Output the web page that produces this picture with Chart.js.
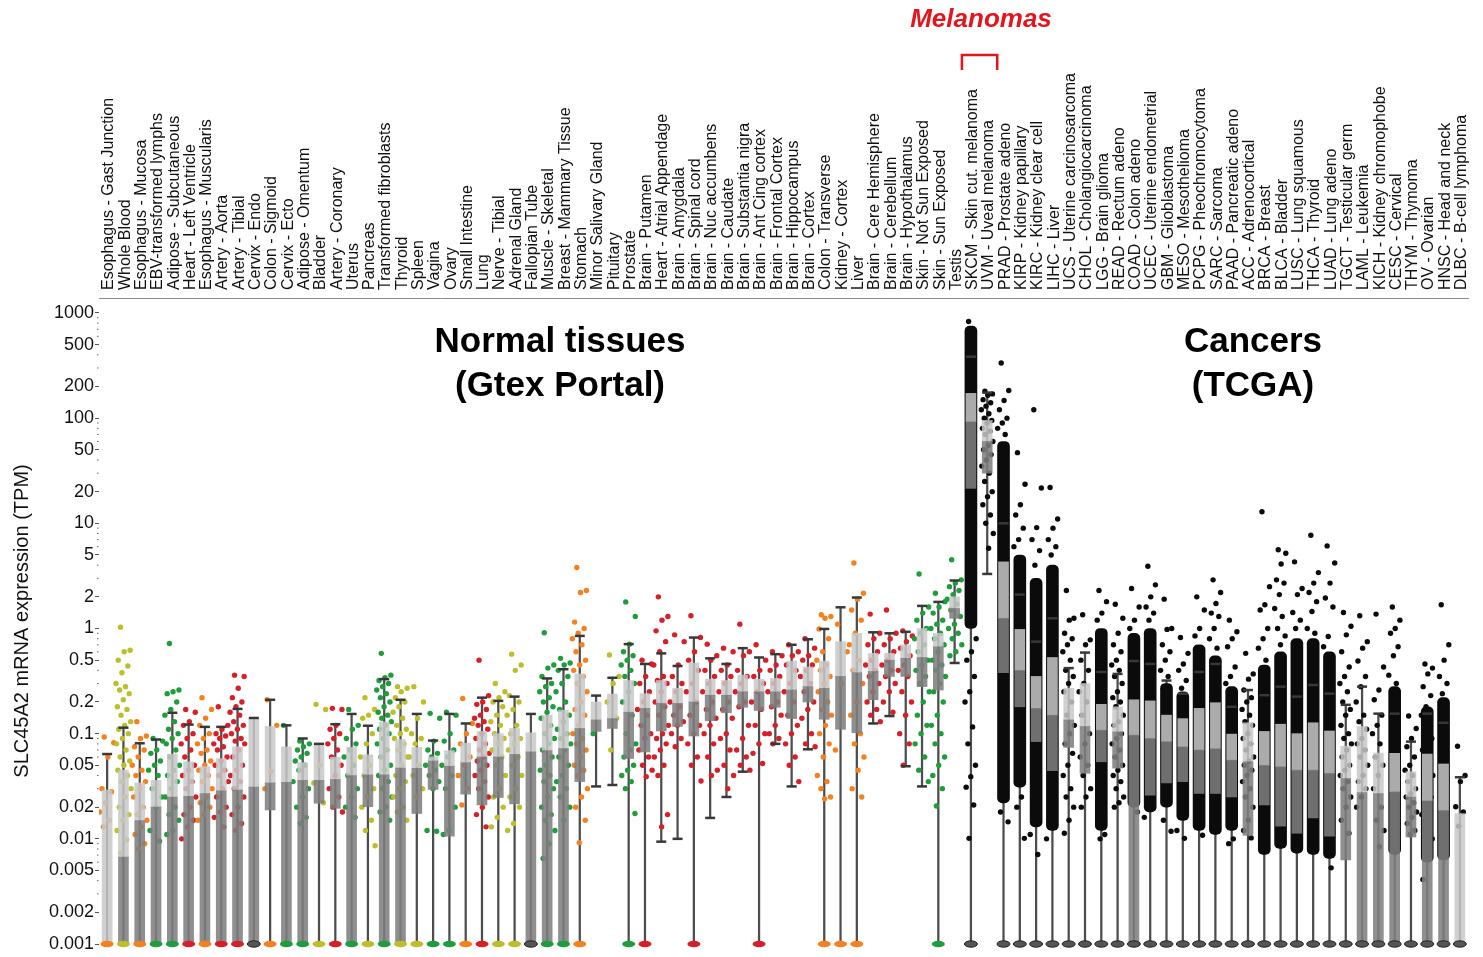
<!DOCTYPE html>
<html>
<head>
<meta charset="utf-8">
<script src="https://cdn.jsdelivr.net/npm/chart.js@4.4.1/dist/chart.umd.min.js"></script>
<style>
  html, body { margin: 0; padding: 0; background: #fff; }
  #wrap { width: 1483px; height: 957px; }
</style>
</head>
<body>
<div id="wrap"><canvas id="chart" width="1483" height="957"></canvas></div>
<script>
// SLC45A2 expression, GTEx normal tissues + TCGA cancers (TPM)

const tissues = ["Esophagus - Gast Junction","Whole Blood","Esophagus - Mucosa","EBV-transformed lymphs","Adipose - Subcutaneous","Heart - Left Ventricle","Esophagus - Muscularis","Artery - Aorta","Artery - Tibial","Cervix - Endo","Colon - Sigmoid","Cervix - Ecto","Adipose - Omentum","Bladder","Artery - Coronary","Uterus","Pancreas","Transformed fibroblasts","Thyroid","Spleen","Vagina","Ovary","Small Intestine","Lung","Nerve - Tibial","Adrenal Gland","Fallopian Tube","Muscle - Skeletal","Breast - Mammary Tissue","Stomach","Minor Salivary Gland","Pituitary","Prostate","Brain - Putamen","Heart - Atrial Appendage","Brain - Amygdala","Brain - Spinal cord","Brain - Nuc accumbens","Brain - Caudate","Brain - Substantia nigra","Brain - Ant Cing cortex","Brain - Frontal Cortex","Brain - Hippocampus","Brain - Cortex","Colon - Transverse","Kidney - Cortex","Liver","Brain - Cere Hemisphere","Brain - Cerebellum","Brain - Hypothalamus","Skin - Not Sun Exposed","Skin - Sun Exposed","Testis","SKCM - Skin cut. melanoma","UVM - Uveal melanoma","PRAD - Prostate adeno","KIRP - Kidney papillary","KIRC - Kidney clear cell","LIHC - Liver","UCS - Uterine carcinosarcoma","CHOL - Cholangiocarcinoma","LGG - Brain glioma","READ - Rectum adeno","COAD - Colon adeno","UCEC - Uterine endometrial","GBM - Glioblastoma","MESO - Mesothelioma","PCPG - Pheochromocytoma","SARC - Sarcoma","PAAD - Pancreatic adeno","ACC - Adrenocortical","BRCA - Breast","BLCA - Bladder","LUSC - Lung squamous","THCA - Thyroid","LUAD - Lung adeno","TGCT - Testicular germ","LAML - Leukemia","KICH - Kidney chromophobe","CESC - Cervical","THYM - Thymoma","OV - Ovarian","HNSC - Head and neck","DLBC - B-cell lymphoma"];

// colour group per column: O orange, Y olive, G green, R red, N grey (no dots), K black (TCGA)
const groups = ("OYOGGRORRNOGGYRGYGYYGGORYYNGGOGYGRRRRRRRRRRROOORRRGGG" + "K".repeat(31)).split("");

const q1 = [0.001,0.001,0.001,0.001,0.001,0.001,0.001,0.001,0.001,0.001,
  0.0188,0.001,0.001,0.0218,0.0195,0.001,0.0202,0.001,0.001,0.0174,
  0.0295,0.0106,0.0266,0.021,0.0247,0.0215,0.001,0.001,0.001,0.035,
  0.105,0.112,0.058,0.067,0.106,0.117,0.095,0.133,0.158,0.178,
  0.166,0.178,0.139,0.2,0.137,0.110,0.102,0.21,0.35,0.35,
  0.28,0.26,1.25,
  21.5,30,0.38,0.18,0.084,0.0445,0.074,0.042,0.054,0.047,
  0.001,0.026,0.034,0.035,0.027,0.027,0.025,0.0108,0.021,0.0132,
  0.0113,0.0158,0.0106,0.0063,0.001,0.001,0.001,0.0104,0.001,0.001,0.001];

const med = [0.001,0.0067,0.0149,0.02,0.025,0.0254,0.027,0.0286,0.029,0.031,
  0.034,0.0344,0.036,0.036,0.0367,0.040,0.0405,0.0405,0.047,0.0468,
  0.055,0.049,0.053,0.06,0.06,0.0635,0.067,0.069,0.072,0.112,
  0.135,0.139,0.16,0.174,0.194,0.194,0.2,0.232,0.232,0.25,
  0.25,0.25,0.26,0.28,0.27,0.35,0.38,0.39,0.5,0.52,
  0.53,0.67,1.55,
  92.5,60,1.25,0.40,0.174,0.15,0.135,0.117,0.108,0.104,
  0.097,0.09,0.084,0.075,0.07,0.072,0.056,0.054,0.05,0.0485,
  0.045,0.045,0.042,0.0375,0.0276,0.027,0.028,0.025,0.023,0.0186,0.001];

const q3 = [0.029,0.045,0.034,0.036,0.064,0.054,0.0485,0.058,0.075,0.139,
  0.117,0.075,0.053,0.08,0.0597,0.074,0.063,0.129,0.088,0.074,
  0.06,0.069,0.081,0.105,0.1,0.112,0.102,0.15,0.167,0.37,
  0.2,0.238,0.32,0.24,0.32,0.27,0.47,0.33,0.32,0.36,
  0.33,0.335,0.49,0.43,0.49,0.75,0.9,0.58,0.58,0.70,
  1.0,0.9,2.0,
  172,95,4.3,0.98,0.35,0.53,0.27,0.30,0.19,0.18,
  0.21,0.205,0.15,0.139,0.174,0.197,0.099,0.127,0.105,0.123,
  0.1,0.127,0.106,0.076,0.117,0.0654,0.065,0.0435,0.064,0.0515,0.0174];

const whiskLo = [0.001,0.001,0.001,0.001,0.001,0.001,0.001,0.001,0.001,0.001,
  0.001,0.001,0.001,0.001,0.001,0.001,0.001,0.001,0.001,0.001,
  0.001,0.001,0.001,0.001,0.001,0.001,0.001,0.001,0.001,0.001,
  0.0315,0.0325,0.001,0.001,0.0094,0.01,0.001,0.0158,0.025,0.0435,
  0.001,0.08,0.0315,0.071,0.001,0.001,0.001,0.125,0.147,0.049,
  0.0315,0.001,0.47,
  0.001,3.3,0.001,0.001,0.001,0.001,0.001,0.001,0.001,0.001,
  0.001,0.001,0.001,0.001,0.001,0.001,0.001,0.001,0.001,0.001,
  0.001,0.001,0.001,0.001,0.001,0.001,0.001,0.001,0.001,0.001,0.001];

const whiskHi = [0.064,0.114,0.081,0.088,0.158,0.122,0.116,0.116,0.172,0.141,
  0.21,0.12,0.09,0.08,0.123,0.154,0.119,0.33,0.21,0.154,
  0.086,0.154,0.125,0.22,0.205,0.225,0.154,0.335,0.41,0.85,
  0.23,0.34,0.71,0.46,0.58,0.44,0.82,0.52,0.46,0.65,
  0.53,0.57,0.70,0.79,0.99,1.59,1.97,0.92,0.9,0.93,
  1.64,1.79,2.86,
  384,175,10,2.1,0.75,1.25,0.42,0.59,0.386,0.37,
  0.49,0.46,0.32,0.24,0.386,0.46,0.18,0.26,0.232,0.28,
  0.225,0.29,0.24,0.188,0.28,0.155,0.155,0.084,0.155,0.127,0.0385];

// range of the solid cloud of samples in the big TCGA cohorts (null = no solid cloud)
const cloudLo = Array(53).fill(null).concat([1,null,0.022,0.031,0.013,0.012,null,null,0.012,null,
  0.02,0.018,0.02,0.015,0.012,0.011,0.012,null,0.0071,0.0081,
  0.0073,0.0071,0.0065,null,null,null,0.0071,null,0.006,0.0063,null]);
const cloudHi = Array(53).fill(null).concat([750,null,60,5,3,4,null,null,1.0,null,
  0.9,1.0,0.3,0.25,0.7,0.55,0.28,null,0.45,0.6,
  0.8,0.8,0.6,null,null,null,0.28,null,0.18,0.22,null]);

// individual samples shown as dots
const samples = [
  [0.093,0.082,0.06,0.03,0.028,0.022,0.018,0.015,0.013],
  [1.03,0.62,0.6,0.5,0.44,0.38,0.3,0.28,0.26,0.24,0.21,0.18,0.17,0.15,0.13,0.12,0.11,0.1,0.09,0.08,0.07,0.06,0.055,0.05,0.045,0.04,0.035,0.03,0.025,0.02,0.017,0.015,0.012,0.0098,0.0073],
  [0.13,0.095,0.09,0.075,0.07,0.06,0.05,0.045,0.04,0.035,0.03,0.025,0.02,0.017,0.015,0.013,0.011,0.009,0.008],
  [0.09,0.085,0.07,0.065,0.055,0.05,0.045,0.04,0.03,0.025,0.02,0.012,0.0095],
  [0.72,0.26,0.25,0.24,0.2,0.17,0.15,0.13,0.11,0.1,0.09,0.08,0.07,0.06,0.05,0.045,0.04,0.035,0.03,0.025,0.02,0.017,0.015,0.012,0.011],
  [0.17,0.16,0.13,0.12,0.1,0.09,0.08,0.07,0.06,0.05,0.045,0.04,0.035,0.03,0.025,0.02,0.017,0.015,0.013,0.01],
  [0.22,0.17,0.14,0.12,0.1,0.09,0.08,0.07,0.065,0.055,0.05,0.045,0.04,0.035,0.03,0.025,0.022,0.02,0.017,0.015],
  [0.18,0.12,0.11,0.1,0.095,0.09,0.08,0.075,0.07,0.06,0.055,0.05,0.045,0.04,0.035,0.03,0.025,0.02,0.018,0.016,0.013],
  [0.36,0.35,0.27,0.22,0.2,0.18,0.16,0.15,0.13,0.12,0.11,0.1,0.09,0.085,0.08,0.07,0.06,0.05,0.045,0.04,0.035,0.03,0.025,0.02,0.017,0.014,0.012],
  [],
  [0.21,0.12,0.044,0.03],
  [0.12,0.035],
  [0.085,0.08,0.075,0.07,0.065,0.06,0.055,0.05,0.045,0.03,0.025,0.02,0.016,0.014],
  [0.19,0.17,0.05,0.034,0.022],
  [0.174,0.17,0.12,0.11,0.1,0.09,0.08,0.07,0.06,0.05,0.04,0.03,0.025,0.02,0.018],
  [0.17,0.12,0.11,0.09,0.08,0.07,0.06,0.05,0.04,0.03,0.025,0.02,0.016],
  [0.22,0.17,0.15,0.14,0.1,0.08,0.06,0.05,0.04,0.03,0.025,0.02,0.015,0.012,0.0086],
  [0.58,0.36,0.34,0.32,0.3,0.28,0.26,0.24,0.22,0.2,0.18,0.16,0.15,0.14,0.13,0.12,0.11,0.1,0.09,0.08,0.07,0.06,0.05,0.045,0.04,0.035,0.03,0.025,0.02,0.018,0.015],
  [0.28,0.27,0.25,0.22,0.2,0.18,0.16,0.14,0.12,0.11,0.1,0.09,0.08,0.07,0.06,0.05,0.04,0.035,0.03,0.025,0.02,0.018,0.015],
  [0.28,0.2,0.14,0.1,0.09,0.08,0.06,0.05,0.04,0.03,0.025],
  [0.156,0.14,0.085,0.07,0.065,0.06,0.05,0.045,0.04,0.035,0.03,0.012,0.0118],
  [0.16,0.15,0.1,0.085,0.07,0.06,0.05,0.04,0.03,0.02,0.012,0.011],
  [0.216,0.125,0.1,0.08,0.06,0.05,0.04,0.03,0.021],
  [0.5,0.23,0.2,0.19,0.17,0.15,0.14,0.13,0.12,0.11,0.1,0.09,0.08,0.07,0.065,0.06,0.055,0.05,0.045,0.04,0.035,0.03,0.025,0.02,0.017,0.013],
  [0.3,0.25,0.22,0.2,0.18,0.15,0.13,0.12,0.1,0.09,0.08,0.07,0.06,0.05,0.04,0.03,0.025,0.02,0.016,0.013],
  [0.57,0.45,0.4,0.23,0.2,0.17,0.15,0.12,0.1,0.09,0.08,0.07,0.06,0.05,0.04,0.03,0.025,0.02,0.014,0.012],
  [],
  [0.91,0.45,0.42,0.35,0.3,0.28,0.25,0.22,0.2,0.18,0.16,0.14,0.12,0.1,0.09,0.08,0.07,0.06,0.05,0.045,0.04,0.035,0.03,0.025,0.02,0.017,0.015,0.012,0.009,0.0065],
  [0.52,0.47,0.45,0.4,0.35,0.3,0.25,0.2,0.17,0.15,0.13,0.11,0.1,0.09,0.08,0.07,0.06,0.05,0.04,0.035,0.03,0.025,0.02,0.015],
  [3.8,2.3,2.2,1.15,1.0,0.9,0.8,0.7,0.6,0.5,0.45,0.4,0.35,0.3,0.25,0.2,0.17,0.15,0.12,0.1,0.09,0.08,0.07,0.06,0.05,0.045,0.04,0.03,0.025,0.02,0.015,0.0092],
  [0.1],
  [0.56,0.35,0.3,0.2,0.14,0.07],
  [1.79,1.3,0.71,0.6,0.55,0.5,0.45,0.4,0.35,0.3,0.25,0.2,0.15,0.1,0.08,0.07,0.06,0.05,0.045,0.04,0.035,0.03,0.0174],
  [0.5,0.46,0.35,0.3,0.25,0.2,0.17,0.15,0.12,0.1,0.09,0.07,0.06,0.05,0.045,0.039],
  [2.0,1.3,1.2,0.95,0.75,0.6,0.45,0.35,0.32,0.3,0.25,0.2,0.18,0.15,0.12,0.1,0.09,0.08,0.07,0.06,0.05,0.04,0.017,0.013],
  [0.87,0.75,0.45,0.35,0.3,0.25,0.2,0.18,0.15,0.13,0.12,0.1,0.09,0.075],
  [1.32,0.82,0.6,0.5,0.4,0.3,0.25,0.2,0.15,0.12,0.1,0.08,0.06,0.05,0.0355],
  [0.71,0.55,0.5,0.4,0.35,0.3,0.25,0.2,0.17,0.14,0.12,0.1,0.08,0.06,0.045,0.04],
  [0.65,0.6,0.45,0.4,0.35,0.3,0.25,0.2,0.17,0.14,0.1,0.09,0.07,0.05,0.04,0.03],
  [1.1,0.6,0.55,0.4,0.35,0.3,0.25,0.2,0.18,0.12,0.09,0.07,0.06,0.05,0.045],
  [0.7,0.5,0.4,0.35,0.3,0.25,0.2,0.17,0.12,0.1,0.08,0.065,0.052],
  [0.6,0.55,0.45,0.4,0.35,0.3,0.25,0.2,0.18,0.15,0.12,0.1,0.09,0.08],
  [0.7,0.6,0.55,0.45,0.4,0.3,0.25,0.2,0.15,0.12,0.1,0.08,0.06,0.05,0.035],
  [0.8,0.65,0.55,0.5,0.45,0.4,0.35,0.3,0.25,0.2,0.17,0.14,0.1,0.08,0.075],
  [1.35,1.3,1.25,0.99,0.8,0.6,0.5,0.45,0.4,0.35,0.3,0.25,0.2,0.17,0.15,0.12,0.1,0.08,0.06,0.04,0.035,0.03,0.025,0.024],
  [1.1,0.6,0.3,0.07],
  [4.2,2.16,1.9,1.5,1.2,0.9,0.7,0.5,0.4,0.3,0.2,0.15,0.1,0.08,0.06,0.045,0.03,0.025],
  [1.37,0.9,0.8,0.7,0.6,0.5,0.45,0.4,0.35,0.3,0.25,0.2,0.17,0.15,0.13],
  [1.5,0.9,0.8,0.7,0.6,0.5,0.45,0.4,0.35,0.3,0.25,0.2,0.16],
  [0.95,0.85,0.75,0.65,0.55,0.45,0.4,0.35,0.25,0.2,0.15,0.1,0.08,0.05],
  [3.3,1.6,1.4,1.2,1.0,0.9,0.8,0.7,0.6,0.5,0.45,0.4,0.35,0.3,0.25,0.2,0.15,0.12,0.1,0.08,0.06,0.045,0.035],
  [2.16,1.8,1.6,1.4,1.2,1.1,1.0,0.9,0.8,0.7,0.6,0.5,0.45,0.4,0.35,0.3,0.25,0.2,0.15,0.12,0.1,0.08,0.06,0.05,0.04,0.03,0.0205],
  [4.5,2.9,2.7,2.5,2.3,2.1,1.9,1.7,1.5,1.3,1.1,1.0,0.9,0.8,0.7,0.6,0.55],
  // TCGA
  [830,0.8,0.6,0.5,0.35,0.25,0.2,0.116,0.08,0.05,0.039,0.031,0.021,0.0101],
  [180,170,165,150,140,130,120,110,100,95,90,80,75,70,60,55,50,45,40,35,30,25,20,17.9,15,12,10,8,5.8],
  [335,183,147,120,100,90,80,70,0.018,0.0145],
  [47,23.5,15,12,9,7,6,0.025,0.02,0.0101],
  [120,21.7,9.1,7,5.5,4,0.011,0.0071],
  [21.9,11,9,7,6,5,0.01],
  [2.3,1.25,1.2,0.9,0.8,0.7,0.6,0.5,0.4,0.35,0.3,0.25,0.2,0.15,0.12,0.1,0.08,0.065,0.05,0.04,0.03,0.025,0.02,0.015,0.0113],
  [1.35,0.78,0.7,0.5,0.4,0.3,0.25,0.2,0.15,0.1,0.08,0.06,0.05,0.04,0.03,0.025,0.02],
  [2.3,1.8,1.4,1.2,0.011,0.01],
  [1.7,1.25,0.9,0.7,0.6,0.5,0.45,0.4,0.35,0.3,0.25,0.22,0.2,0.18,0.15,0.13,0.12,0.1,0.09,0.08,0.07,0.06,0.05,0.045,0.04,0.035,0.03,0.025,0.022,0.02],
  [2.4,1.6,1.2,1.0,0.018],
  [3.9,2.6,2.0,1.6,1.4,1.2,0.016],
  [1.9,1.0,0.98,0.7,0.6,0.5,0.4,0.35,0.015,0.0118],
  [0.82,0.58,0.46,0.4,0.32,0.27,0.012,0.0101],
  [2.0,1.5,1.0,0.85,0.0108],
  [2.9,2.2,1.73,1.4,1.3,1.0,0.8,0.65],
  [1.2,0.93,0.8,0.67,0.43,0.35,0.3,0.01,0.009],
  [0.58,0.37,0.33,0.26,0.22,0.2,0.17,0.15,0.13,0.12,0.1,0.09,0.08,0.07,0.06,0.055,0.05,0.045,0.04,0.035,0.03,0.025,0.02,0.015,0.012,0.0102],
  [12.9,2.5,1.68,1.5,1.0,0.8,0.65,0.5],
  [5.6,5.2,4.1,2.9,2.7,2.1,1.55,1.3,1.0,0.85,0.7],
  [4.3,2.4,2.1,1.42,1.2,1.0],
  [7.7,3.4,2.7,2.2,1.8,1.45,1.0,0.9],
  [6.1,4.2,2.7,1.95,1.6,0.84,0.67,0.0053],
  [1.42,1.05,0.87,0.6,0.43,0.35,0.3,0.25,0.2,0.17,0.15,0.12,0.1,0.09,0.08,0.07,0.06,0.05,0.045,0.04,0.035,0.03,0.025,0.02,0.015,0.0113],
  [1.32,0.75,0.65,0.49,0.35,0.28,0.2,0.15,0.13,0.11,0.09,0.08,0.07,0.06,0.05,0.04,0.035,0.03,0.025,0.02],
  [1.37,0.43,0.26,0.21,0.15,0.12,0.1,0.08,0.06,0.05,0.04,0.03,0.02,0.015,0.012,0.0084],
  [1.6,1.2,1.0,0.9,0.67,0.55,0.36,0.3],
  [0.147,0.112,0.09,0.075,0.06,0.05,0.045,0.04,0.035,0.03,0.027,0.025,0.022,0.02,0.018,0.016,0.014,0.012,0.011],
  [0.46,0.42,0.37,0.28,0.23,0.18,0.15,0.12,0.1,0.09,0.08,0.07,0.06,0.05,0.04,0.035,0.03,0.025,0.02,0.017,0.015,0.012,0.01,0.008,0.0041],
  [1.68,0.7,0.5,0.35,0.3,0.24],
  [0.076,0.04,0.035,0.0202,0.018,0.0132]
];

const yTicks = [1000,500,200,100,50,20,10,5,2,1,0.5,0.2,0.1,0.05,0.02,0.01,0.005,0.002,0.001];

const palette = { O: '#f4801f', Y: '#bcbe2c', G: '#1f9c3b', R: '#d61f29', N: '#555555', K: '#0b0b0b' };
const FONT = '"Liberation Sans", Arial, sans-serif';
const FLOOR = 0.001;

// build datasets
const idx = tissues.map((t, i) => i);
const whiskerData = idx.map(i => ({ x: i, y: [whiskLo[i], whiskHi[i]] }));
const cloudData = idx.filter(i => cloudLo[i] !== null).map(i => ({ x: i, y: [cloudLo[i], cloudHi[i]] }));
const lowerBox = idx.filter(i => q1[i] < med[i]).map(i => ({ x: i, y: [q1[i], med[i]] }));
const upperBox = idx.filter(i => med[i] < q3[i]).map(i => ({ x: i, y: [med[i], q3[i]] }));
const capData = [];
idx.forEach(i => {
  capData.push({ x: i, y: whiskHi[i] });
  if (whiskLo[i] > FLOOR) capData.push({ x: i, y: whiskLo[i] });
});
const dotData = [];
samples.forEach((arr, i) => {
  const spread = groups[i] === 'K' ? 0.75 : 0.95;
  arr.forEach((v, k) => {
    const f = ((k * 0.618034 + 0.31) % 1) - 0.5;   // jitter inside the column
    dotData.push({ x: i + f * spread, y: v, c: palette[groups[i]] });
  });
});

const decor = {
  id: 'decor',
  afterDatasetsDraw(chart) {
    const { ctx, scales: { x, y } } = chart;
    ctx.save();
    idx.forEach(i => {
      if (whiskLo[i] > FLOOR) return;
      const px = x.getPixelForValue(i), py = y.getPixelForValue(FLOOR);
      ctx.beginPath();
      ctx.ellipse(px, py, 6.5, 3.2, 0, 0, Math.PI * 2);
      if (groups[i] === 'K' || groups[i] === 'N') {
        ctx.fillStyle = '#555'; ctx.fill();
        ctx.lineWidth = 1; ctx.strokeStyle = '#222'; ctx.stroke();
      } else {
        ctx.fillStyle = palette[groups[i]]; ctx.fill();
      }
    });
    ctx.restore();
  },
  afterDraw(chart) {
    const { ctx, chartArea, scales: { x, y } } = chart;
    ctx.save();
    // minor log ticks
    ctx.fillStyle = '#666';
    for (let d = -3; d < 3; d++) {
      for (let m = 2; m <= 9; m++) {
        if (m === 2 || m === 5) continue;
        const v = m * Math.pow(10, d);
        const py = y.getPixelForValue(v);
        ctx.fillRect(chartArea.left - 2, py - 0.5, 1.5, 1);
      }
    }
    // panel titles
    ctx.fillStyle = '#000';
    ctx.textAlign = 'center';
    ctx.textBaseline = 'middle';
    ctx.font = 'bold 35px ' + FONT;
    ctx.fillText('Normal tissues', 560, 342);
    ctx.fillText('(Gtex Portal)', 560, 386);
    ctx.fillText('Cancers', 1253, 342);
    ctx.fillText('(TCGA)', 1253, 386);
    // melanoma bracket
    ctx.fillStyle = '#e3151d';
    ctx.font = 'italic bold 26px ' + FONT;
    ctx.fillText('Melanomas', 981, 20);
    const bx1 = x.getPixelForValue(53) - 9, bx2 = x.getPixelForValue(54) + 10;
    ctx.strokeStyle = '#e3151d';
    ctx.lineWidth = 2.5;
    ctx.beginPath();
    ctx.moveTo(bx1, 70); ctx.lineTo(bx1, 55); ctx.lineTo(bx2, 55); ctx.lineTo(bx2, 70);
    ctx.stroke();
    ctx.restore();
  }
};

new Chart(document.getElementById('chart'), {
  type: 'bar',
  data: {
    datasets: [
      { type: 'bar', data: whiskerData, backgroundColor: '#4d4d4d', barThickness: 1.6, grouped: false, order: 6 },
      { type: 'bar', data: cloudData, backgroundColor: '#0b0b0b', barThickness: 12, borderRadius: 5, borderSkipped: false, grouped: false, order: 5 },
      { type: 'scatter', data: dotData, pointRadius: 2.7, pointBorderWidth: 0,
        pointBackgroundColor: c => c.raw ? c.raw.c : '#000', order: 4 },
      { type: 'bar', data: lowerBox, backgroundColor: 'rgba(126,126,126,0.87)', barThickness: 10, grouped: false, order: 3 },
      { type: 'bar', data: upperBox, backgroundColor: 'rgba(200,200,200,0.85)', barThickness: 10, grouped: false, order: 3 },
      { type: 'scatter', data: capData, pointStyle: 'line', pointRadius: 5, pointBorderWidth: 2.5,
        pointBorderColor: '#383838', order: 1 }
    ]
  },
  options: {
    responsive: false,
    animation: false,
    events: [],
    layout: { padding: { left: 0, top: 0, right: 15, bottom: 13 } },
    plugins: { legend: { display: false }, tooltip: { enabled: false } },
    scales: {
      x: {
        type: 'linear',
        position: 'top',
        offset: false,
        min: -0.5,
        max: tissues.length - 0.5,
        afterBuildTicks: s => { s.ticks = idx.map(i => ({ value: i })); },
        afterFit: s => { s.height = 298; s.paddingLeft = 0; s.paddingRight = 0; },
        grid: { display: false, drawTicks: false, offset: false },
        border: { display: true, color: '#8a8a8a', dash: [2, 2], width: 1 },
        ticks: {
          autoSkip: false, minRotation: 90, maxRotation: 90, padding: 8, labelOffset: 21,
          color: '#111', font: { family: FONT, size: 16 },
          callback: v => tissues[v]
        }
      },
      y: {
        type: 'logarithmic',
        min: 0.001,
        max: 1388,
        afterBuildTicks: s => { s.ticks = yTicks.map(v => ({ value: v })); },
        afterFit: s => { s.width = 99; },
        grid: { drawOnChartArea: false, drawTicks: true, tickLength: 4, color: '#555' },
        border: { display: false },
        ticks: { color: '#111', padding: 1, font: { family: FONT, size: 18 }, callback: v => String(v) },
        title: { display: true, text: 'SLC45A2 mRNA expression (TPM)', color: '#111',
          font: { family: FONT, size: 20 }, padding: { top: 10, bottom: 0 } }
      }
    }
  },
  plugins: [decor]
});
</script>
</body>
</html>
